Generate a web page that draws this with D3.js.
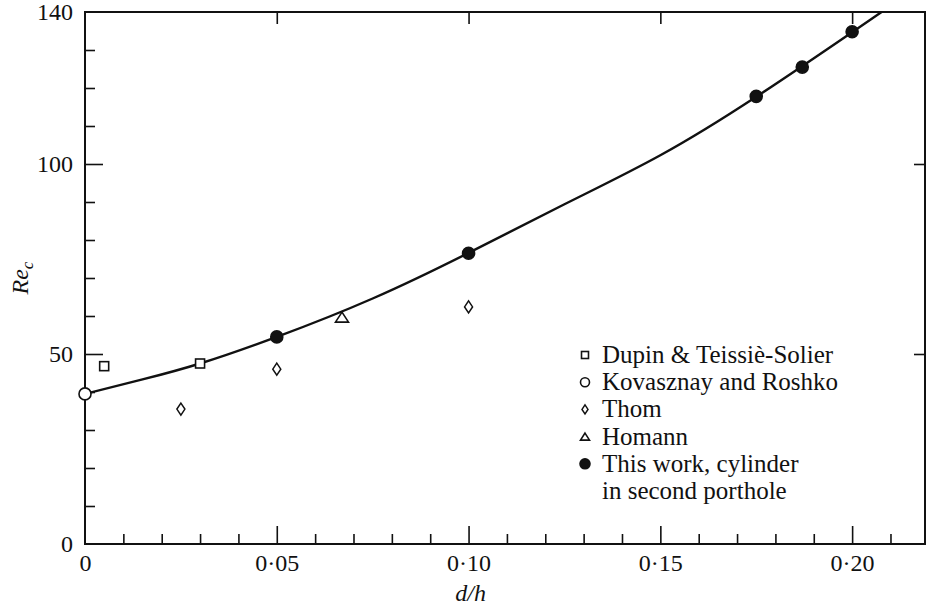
<!DOCTYPE html>
<html><head><meta charset="utf-8">
<script src="https://cdn.jsdelivr.net/npm/d3@7"></script>
<style>
body{margin:0;background:#fff;}
svg{display:block;}
</style></head>
<body><svg id="c" width="927" height="608"></svg>
<script>
// ---- data ----
const xMajorTicks = [0, 0.05, 0.10, 0.15, 0.20];
const xMajorLabels = ["0", "0·05", "0·10", "0·15", "0·20"];
const xMinorTicks = [0.01,0.02,0.03,0.04,0.06,0.07,0.08,0.09,0.11,0.12,0.13,0.14,0.16,0.17,0.18,0.19,0.21];
const yMajorTicks = [0, 50, 100, 140];
const yMinorTicks = [10,20,30,40,60,70,80,90,110,120,130];

const dupinX = [0.005, 0.030];
const dupinY = [46.8, 47.5];
const kovX = [0];
const kovY = [39.5];
const thomX = [0.025, 0.050, 0.100];
const thomY = [35.5, 46.0, 62.4];
const homannX = [0.067];
const homannY = [59.7];
const thisX = [0.050, 0.100, 0.175, 0.187, 0.200];
const thisY = [54.5, 76.5, 117.8, 125.5, 134.8];

const curveX = [0, 0.015, 0.030, 0.050, 0.075, 0.100, 0.125, 0.150, 0.175, 0.200, 0.210];
const curveY = [39.5, 43.3, 47.5, 54.5, 64.6, 76.6, 89.4, 102.3, 117.7, 134.7, 141.6];

const legendLabels = ["Dupin & Teissiè-Solier", "Kovasznay and Roshko", "Thom", "Homann", "This work, cylinder", "in second porthole"];

// ---- chart ----
const FONT = '"Liberation Serif"';
const svg = d3.select("#c");
const L = 85, R = 925, T = 12, B = 544;
const x = d3.scaleLinear().domain([0, 0.219]).range([L, R]);
const y = d3.scaleLinear().domain([0, 140]).range([B, T]);

svg.append("defs").append("clipPath").attr("id", "plot")
  .append("rect").attr("x", L).attr("y", T).attr("width", R - L).attr("height", B - T);

// frame
svg.append("rect").attr("x", L).attr("y", T).attr("width", R - L).attr("height", B - T)
  .attr("fill", "none").attr("stroke", "#111").attr("stroke-width", 2);

function styleAxis(g){ g.select(".domain").remove(); g.selectAll("line").attr("stroke","#111").attr("stroke-width",1.6); }
function styleLabels(g){ g.attr("font-family", null); g.select(".domain").remove(); g.selectAll("text").attr("font-size", 24).attr("fill", "#111").style("font-family", FONT); }

svg.append("g").attr("transform", `translate(0,${B})`)
  .call(d3.axisBottom(x).tickValues(xMajorTicks.slice(1)).tickSizeInner(-18).tickSizeOuter(0).tickFormat(() => ""))
  .call(styleAxis);
svg.append("g").attr("transform", `translate(0,${B})`)
  .call(d3.axisBottom(x).tickValues(xMinorTicks).tickSizeInner(-10).tickSizeOuter(0).tickFormat(() => ""))
  .call(styleAxis);
svg.append("g").attr("transform", `translate(0,${B})`)
  .call(d3.axisBottom(x).tickValues(xMajorTicks).tickSize(0).tickPadding(10).tickFormat((d, i) => xMajorLabels[i]))
  .call(styleLabels);
svg.append("g").attr("transform", `translate(0,${T})`)
  .call(d3.axisTop(x).tickValues(xMajorTicks.slice(1)).tickSizeInner(-12).tickSizeOuter(0).tickFormat(() => ""))
  .call(styleAxis);

svg.append("g").attr("transform", `translate(${L},0)`)
  .call(d3.axisLeft(y).tickValues([50, 100]).tickSizeInner(-18).tickSizeOuter(0).tickFormat(() => ""))
  .call(styleAxis);
svg.append("g").attr("transform", `translate(${L},0)`)
  .call(d3.axisLeft(y).tickValues(yMinorTicks).tickSizeInner(-10).tickSizeOuter(0).tickFormat(() => ""))
  .call(styleAxis);
svg.append("g").attr("transform", `translate(${L},0)`)
  .call(d3.axisLeft(y).tickValues(yMajorTicks).tickSize(0).tickPadding(12).tickFormat(d3.format("d")))
  .call(styleLabels);
svg.append("g").attr("transform", `translate(${R},0)`)
  .call(d3.axisRight(y).tickValues([50, 100]).tickSizeInner(-11).tickSizeOuter(0).tickFormat(() => ""))
  .call(styleAxis);

// axis titles
svg.append("text").attr("x", x(0.10) + 2).attr("y", 601).attr("text-anchor", "middle")
  .style("font-family", FONT).attr("font-size", 24).attr("font-style", "italic").attr("fill", "#111").text("d/h");
const yt = svg.append("text").attr("transform", `translate(28,${y(70)}) rotate(-90)`).attr("text-anchor", "middle")
  .style("font-family", FONT).attr("font-size", 24).attr("font-style", "italic").attr("fill", "#111");
yt.append("tspan").text("Re");
yt.append("tspan").attr("font-size", 17).attr("dy", 5).text("c");

// curve
const pts = curveX.map((d, i) => [d, curveY[i]]);
svg.append("path").datum(pts).attr("clip-path", "url(#plot)")
  .attr("d", d3.line().x(d => x(d[0])).y(d => y(d[1])).curve(d3.curveNatural))
  .attr("fill", "none").attr("stroke", "#111").attr("stroke-width", 2.4);

// markers
function square(g, cx, cy, s){ g.append("rect").attr("x", cx - s/2).attr("y", cy - s/2).attr("width", s).attr("height", s)
  .attr("fill", "#fff").attr("stroke", "#111").attr("stroke-width", 1.6); }
function circle(g, cx, cy, r, fill){ g.append("circle").attr("cx", cx).attr("cy", cy).attr("r", r)
  .attr("fill", fill ? "#111" : "#fff").attr("stroke", "#111").attr("stroke-width", 1.6); }
function diamond(g, cx, cy, w, h){ g.append("path").attr("d", `M${cx},${cy-h/2}L${cx+w/2},${cy}L${cx},${cy+h/2}L${cx-w/2},${cy}Z`)
  .attr("fill", "#fff").attr("stroke", "#111").attr("stroke-width", 1.5); }
function triangle(g, cx, cy, w, h){ g.append("path").attr("d", `M${cx},${cy-h/2}L${cx+w/2},${cy+h/2}L${cx-w/2},${cy+h/2}Z`)
  .attr("fill", "#fff").attr("stroke", "#111").attr("stroke-width", 1.6); }

const m = svg.append("g");
dupinX.forEach((d, i) => square(m, x(d), y(dupinY[i]), 9));
thomX.forEach((d, i) => diamond(m, x(d), y(thomY[i]), 8, 12));
homannX.forEach((d, i) => triangle(m, x(d), y(homannY[i]), 13, 10));
thisX.forEach((d, i) => circle(m, x(d), y(thisY[i]), 6, true));
kovX.forEach((d, i) => circle(m, x(d), y(kovY[i]), 6, false));

// legend
const lg = svg.append("g");
const lx = 585, tx = 602, ly0 = 355, dy = 27.2;
square(lg, lx, ly0, 7);
circle(lg, lx, ly0 + dy, 4.5, false);
diamond(lg, lx, ly0 + 2*dy, 6, 9);
triangle(lg, lx, ly0 + 3*dy, 9, 7);
circle(lg, lx, ly0 + 4*dy, 5, true);
legendLabels.forEach((t, i) => {
  lg.append("text").attr("x", tx).attr("y", ly0 + i*dy + 8).style("font-family", FONT)
    .attr("font-size", 25).attr("fill", "#111").text(t);
});
</script></body></html>
